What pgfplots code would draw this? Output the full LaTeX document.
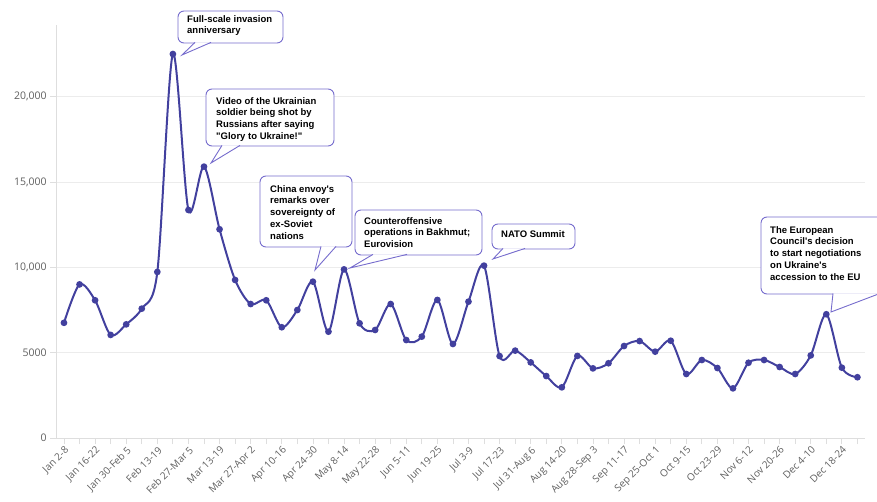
\documentclass[border=0pt]{standalone}
\usepackage{pgfplots}
\pgfplotsset{compat=1.18}
\usepackage{fontspec}
\setmainfont{Open Sans}
\newfontfamily\callfont{Liberation Sans}

\definecolor{linecol}{RGB}{66,64,158}
\definecolor{gridgray}{RGB}{236,236,236}
\definecolor{axisgray}{RGB}{222,222,222}
\definecolor{labgray}{RGB}{95,95,95}
\definecolor{callcol}{RGB}{118,108,205}

\pgfplotstableread{
week value
0 6750
1 9000
2 8070
3 6040
4 6660
5 7580
6 9730
7 22500
8 13360
9 15900
10 12230
11 9260
12 7850
13 8070
14 6490
15 7500
16 9160
17 6230
18 9880
19 6720
20 6330
21 7850
22 5740
23 5940
24 8090
25 5510
26 7990
27 10100
28 4800
29 5120
30 4430
31 3630
32 2970
33 4810
34 4080
35 4380
36 5390
37 5680
38 5060
39 5700
40 3750
41 4570
42 4100
43 2910
44 4410
45 4570
46 4160
47 3750
48 4840
49 7250
50 4120
51 3560
}\mentions

\tikzset{
  cbox/.style={draw=callcol, fill=white, line width=0.9pt, rounded corners=6pt},
  cptr/.style={draw=callcol, fill=white, line width=0.9pt},
  ctext/.style={anchor=north west, inner sep=0pt, align=left, text=black,
    font=\callfont\bfseries\fontsize{9.5}{11.8}\selectfont}
}

\begin{document}
\begin{tikzpicture}
\useasboundingbox (0pt,0pt) rectangle (877pt,501pt);
\begin{axis}[
  at={(56.2pt,63pt)}, anchor=south west,
  scale only axis, width=809pt, height=413pt,
  xmin=-0.5, xmax=51.5, ymin=0, ymax=24200,
  axis lines*=left,
  axis line style={draw=axisgray, line width=0.8pt},
  ymajorgrids, grid style={draw=gridgray, line width=0.8pt},
  tick align=outside, major tick length=6pt, minor tick length=6pt,
  tick style={draw=axisgray, line width=0.8pt},
  scaled y ticks=false,
  ytick={0,5000,10000,15000,20000},
  yticklabels={0,5000,{10,000},{15,000},{20,000}},
  y tick label style={font=\fontsize{10.5}{12}\selectfont, text=labgray},
  xtick={0,2,...,50},
  minor xtick={1,3,...,51},
  xticklabels={Jan 2-8,Jan 16-22,Jan 30-Feb 5,Feb 13-19,Feb 27-Mar 5,Mar 13-19,Mar 27-Apr 2,Apr 10-16,Apr 24-30,May 8-14,May 22-28,Jun 5-11,Jun 19-25,Jul 3-9,Jul 17-23,Jul 31-Aug 6,Aug 14-20,Aug 28-Sep 3,Sep 11-17,Sep 25-Oct 1,Oct 9-15,Oct 23-29,Nov 6-12,Nov 20-26,Dec 4-10,Dec 18-24},
  x tick label style={rotate=45, anchor=north east, inner sep=1pt,
    font=\fontsize{10}{12}\selectfont, text=labgray},
  clip=false,
]
\addplot[color=linecol, line width=2pt, smooth, tension=0.5,
  mark=*, mark size=2.3pt, mark options={fill=linecol, draw=linecol}]
  table[x=week, y=value] {\mentions};
\end{axis}

% callout 1
\draw[cbox] (178pt,458pt) rectangle (283pt,490pt);
\draw[cptr] (195pt,458.6pt) -- (182pt,446pt) -- (211pt,458.6pt);
\node[ctext] at (187pt,486pt) {Full-scale invasion\\anniversary};
% callout 2
\draw[cbox] (206pt,355pt) rectangle (334pt,412pt);
\draw[cptr] (222pt,355.6pt) -- (211pt,338pt) -- (240pt,355.6pt);
\node[ctext] at (216pt,404pt) {Video of the Ukrainian\\soldier being shot by\\Russians after saying\\"Glory to Ukraine!"};
% callout 3
\draw[cbox] (260pt,254pt) rectangle (352pt,325pt);
\draw[cptr] (321pt,254.6pt) -- (315pt,231pt) -- (336pt,254.6pt);
\node[ctext] at (270pt,316pt) {China envoy's\\remarks over\\sovereignty of\\ex-Soviet\\nations};
% callout 4
\draw[cbox] (355pt,246pt) rectangle (482pt,291pt);
\draw[cptr] (373pt,246.6pt) -- (350pt,233pt) -- (407pt,246.6pt);
\node[ctext] at (364pt,284pt) {Counteroffensive\\operations in Bakhmut;\\Eurovision};
% callout 5
\draw[cbox] (492pt,252pt) rectangle (575pt,277pt);
\draw[cptr] (503pt,252.6pt) -- (493pt,242pt) -- (525pt,252.6pt);
\node[ctext] at (501pt,271pt) {NATO Summit};
% callout 6
\draw[cbox] (761pt,207pt) rectangle (900pt,284pt);
\draw[cptr] (833pt,207.6pt) -- (831pt,189pt) -- (880pt,207.6pt);
\node[ctext] at (770pt,275pt) {The European\\Council's decision\\to start negotiations\\on Ukraine's\\accession to the EU};
\end{tikzpicture}
\end{document}
